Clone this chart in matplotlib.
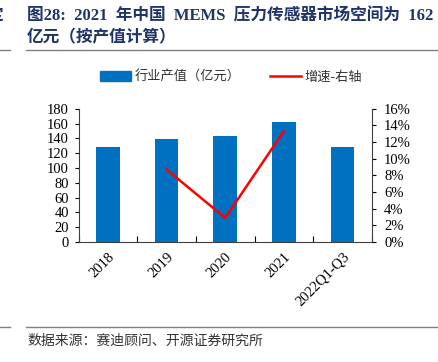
import matplotlib
matplotlib.use('Agg')
import matplotlib.pyplot as plt
import numpy as np
from matplotlib.lines import Line2D
from matplotlib.patches import Patch

# data
years = ['2018', '2019', '2020', '2021', '2022Q1-Q3']
output_value = [128, 139, 143, 162, 128]      # 行业产值（亿元）
growth_years = ['2019', '2020', '2021']
growth_pct = [8.7, 2.9, 13.3]                  # 增速 %

title_line1 = '图28:  2021  年中国  MEMS  压力传感器市场空间为  162'
title_line2 = '亿元（按产值计算）'
source_text = '数据来源：赛迪顾问、开源证券研究所'

CJK = ['Noto Sans CJK SC', 'DejaVu Sans']
SERIF = ['Liberation Serif', 'Noto Sans CJK SC']
BLUE = '#0070C0'
W, H = 439, 362

fig = plt.figure(figsize=(W / 100, H / 100), dpi=100)
ax = fig.add_axes([78.7 / W, 1 - 242 / H, (371.7 - 78.7) / W, (242 - 108.7) / H])

x = np.arange(len(years))
ax.bar(x, output_value, width=0.4, color=BLUE, zorder=2)
ax.set_xlim(-0.5, len(years) - 0.5)
ax.set_ylim(0, 180)
ax.set_yticks(np.arange(0, 181, 20))
ax.set_xticks(x)
ax.set_xticklabels(years, rotation=45, ha='right', rotation_mode='anchor',
                   family='Liberation Serif', fontsize=10.5)
ax.tick_params(axis='x', length=0, pad=6)
ax.set_xticks(np.arange(-0.5, len(years)), minor=True)
ax.tick_params(axis='x', which='minor', direction='in', length=4, width=0.8)
ax.tick_params(axis='y', direction='out', length=3, width=0.8, labelsize=10.5, pad=4)
for lab in ax.get_yticklabels():
    lab.set_family('Liberation Serif')
for s in ['top', 'right']:
    ax.spines[s].set_visible(False)
ax.spines['left'].set_color('#404040')
ax.spines['bottom'].set_color('#404040')

ax2 = ax.twinx()
gx = [years.index(y) for y in growth_years]
ax2.plot(gx, growth_pct, color='#FF0000', lw=1.8, zorder=3)
ax2.set_ylim(0, 16)
ax2.set_yticks(np.arange(0, 17, 2))
ax2.set_yticklabels([f'{v}%' for v in range(0, 17, 2)], family='Liberation Serif', fontsize=10.5)
ax2.tick_params(axis='y', direction='out', length=3, width=0.8, pad=6)
for s in ['top', 'left', 'bottom']:
    ax2.spines[s].set_visible(False)
ax2.spines['right'].set_color('#404040')

# legend
handles = [Patch(color=BLUE), Line2D([0], [0], color='#FF0000', lw=1.8)]
leg = fig.legend(handles, ['行业产值（亿元）', '增速-右轴'], loc='center left',
                 bbox_to_anchor=(88 / W, 1 - 77 / H), ncol=2, frameon=False,
                 prop={'family': CJK, 'size': 9.5}, handlelength=2.35, handleheight=0.75,
                 columnspacing=2.2, handletextpad=0.3)
for t in leg.get_texts():
    t.set_color('#333333')

# title, rules and source
fig.text(27 / W, 1 - 16 / H, title_line1, family=SERIF, fontweight='bold',
         fontsize=12, color='#1F3468', va='center', ha='left')
fig.text(27 / W, 1 - 38 / H, title_line2, family=SERIF, fontweight='bold',
         fontsize=12, color='#1F3468', va='center', ha='left')
fig.text(3 / W, 1 - 16 / H, '定', family=CJK, fontweight='bold',
         fontsize=12, color='#1F3468', va='center', ha='right')
fig.add_artist(Line2D([26 / W, 437 / W], [1 - 50 / H, 1 - 50 / H], color='#808080', lw=1))
fig.add_artist(Line2D([0, 10 / W], [1 - 50 / H, 1 - 50 / H], color='#808080', lw=1))
fig.add_artist(Line2D([26 / W, 437 / W], [1 - 327 / H, 1 - 327 / H], color='#808080', lw=1))
fig.add_artist(Line2D([0, 10 / W], [1 - 327 / H, 1 - 327 / H], color='#808080', lw=1))
fig.text(27 / W, 1 - 341 / H, source_text, family=CJK, fontsize=10,
         color='#333333', va='center', ha='left')

fig.savefig('out.png', dpi=100)
